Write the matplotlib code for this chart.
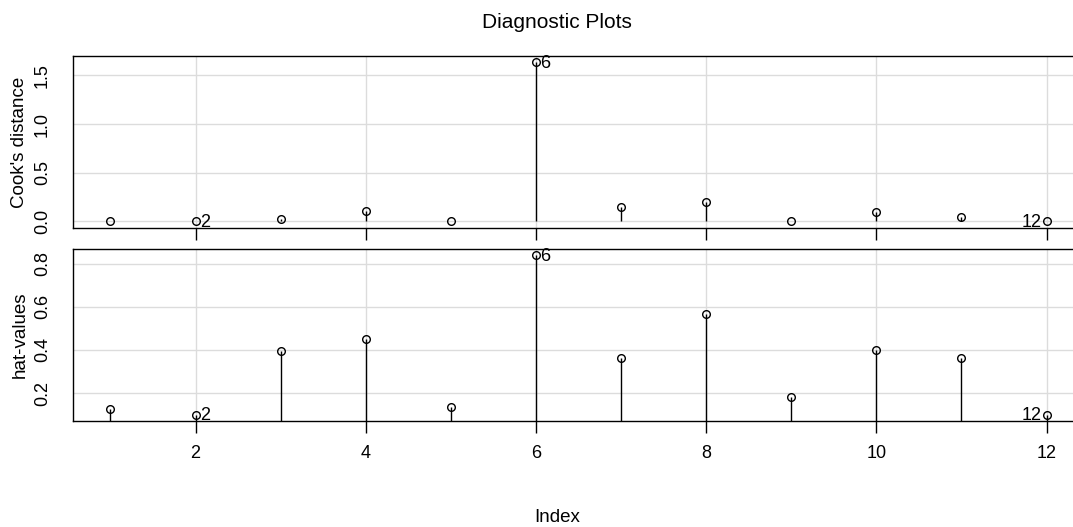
import numpy as np
import matplotlib
matplotlib.use("Agg")
import matplotlib.pyplot as plt

plt.rcParams['font.family'] = ['Liberation Sans', 'DejaVu Sans']

index = np.arange(1, 13)
cooks = [0.003, 0.001, 0.020, 0.106, 0.002, 1.637, 0.144, 0.199, 0.001, 0.093, 0.048, 0.001]
hat = [0.128, 0.100, 0.395, 0.452, 0.133, 0.839, 0.362, 0.568, 0.183, 0.399, 0.362, 0.100]
flagged = [2, 6, 12]

fig = plt.figure(figsize=(10.73, 5.27), dpi=100)
W, H = 1073, 527

def panel(top_px, bottom_px):
    left, right = 73, 1084
    return fig.add_axes([left / W, 1 - bottom_px / H, (right - left) / W, (bottom_px - top_px) / H])

ax1 = panel(56, 228)
ax2 = panel(249, 421)

def draw(ax, y, ylim, yticks, ylabel, show_x):
    ax.set_xlim(0.56, 12.44)
    ax.set_ylim(*ylim)
    ax.set_xticks([2, 4, 6, 8, 10, 12])
    ax.set_yticks(yticks)
    ax.grid(True, color='#dcdcdc', linewidth=1)
    ax.set_axisbelow(True)
    ax.vlines(index, 0, y, color='black', linewidth=1)
    ax.plot(index, y, 'o', mfc='none', mec='black', ms=5.5, mew=1)
    for i in flagged:
        yy = y[i - 1]
        if i == index[-1]:
            ax.annotate(str(i), (i, yy), xytext=(-3.5, -1), textcoords='offset points',
                        ha='right', va='center', fontsize=13)
        else:
            ax.annotate(str(i), (i, yy), xytext=(3, -1), textcoords='offset points',
                        ha='left', va='center', fontsize=13)
    ax.tick_params(axis='x', length=8.6, width=1, pad=9, labelsize=13, labelbottom=show_x)
    ax.tick_params(axis='y', length=0, pad=16, labelsize=13, labelrotation=90)
    for lab in ax.get_yticklabels():
        lab.set_va('center')
    for s in ax.spines.values():
        s.set_linewidth(1)
        s.set_color('black')
    pos = ax.get_position()
    fig.text(20 / W, pos.y0 + pos.height / 2, ylabel,
             rotation=90, ha='center', va='center', fontsize=13.5)

draw(ax1, cooks, (-0.07, 1.70), [0.0, 0.5, 1.0, 1.5], "Cook's distance", False)
draw(ax2, hat, (0.070, 0.869), [0.2, 0.4, 0.6, 0.8], "hat-values", True)

fig.text(557 / W, 1 - 22 / H, "Diagnostic Plots", ha='center', va='center', fontsize=15)
fig.text(557 / W, 1 - 518 / H, "Index", ha='center', va='center', fontsize=13.5)

fig.savefig("out.png", dpi=100)
